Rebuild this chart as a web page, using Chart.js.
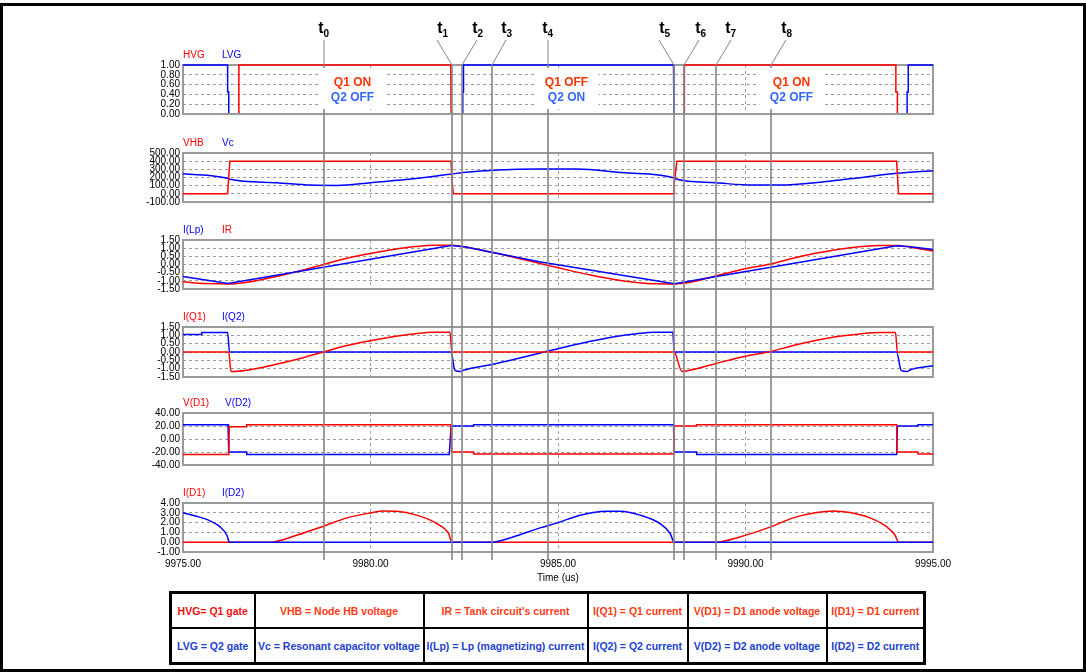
<!DOCTYPE html>
<html>
<head>
<meta charset="utf-8">
<script src="https://cdn.jsdelivr.net/npm/chart.js@4.4.1/dist/chart.umd.min.js"></script>
<style>
  html, body { margin: 0; padding: 0; background: #fff; }
  body { width: 1086px; height: 672px; position: relative; overflow: hidden; font-family: "Liberation Sans", Arial, sans-serif; }
  .frame { position: absolute; left: 0; top: 3px; width: 1080px; height: 663px; border: 3px solid #000; }
  canvas { position: absolute; left: 0; }
  #overlay { top: 0; z-index: 5; pointer-events: none; }
  table.legend { position: absolute; left: 169px; top: 591px; width: 757px; border-collapse: collapse; table-layout: fixed; border: 3px solid #000; background: #fff; }
  table.legend td { border: 2px solid #000; height: 33px; padding: 0; text-align: center; font-weight: bold; font-size: 10.5px; white-space: nowrap; overflow: hidden; }
  .r { color: #ff3b14; }
  .r0 { color: #ee1111; }
  .b { color: #1c3fcf; }
</style>
</head>
<body>
<div class="frame"></div>
<div id="stage"></div>
<canvas id="overlay" width="1086" height="672"></canvas>
<table class="legend" id="legend"></table>
<script>
// ---- time axis ----
const timeTicks = [9975, 9980, 9985, 9990, 9995];

// ---- marker lines t0..t8 ----
const markerNames = ['0', '1', '2', '3', '4', '5', '6', '7', '8'];
const markerTimes = [9978.77, 9982.17, 9982.43, 9983.23, 9984.74, 9988.1, 9988.36, 9989.2, 9990.67];
const labelShift = [-1, -10, 15, 14, -1, -10, 16, 14, 15];
const slantShift = [0, -15, 15, 14, 0, -15, 15, 15, 15];

// ---- switch states in the gate panel ----
const stateTimes = [9979.5, 9985.2, 9991.2];
const stateTop = ['Q1 ON', 'Q1 OFF', 'Q1 ON'];
const stateBottom = ['Q2 OFF', 'Q2 ON', 'Q2 OFF'];

// ---- panel 1: gate signals ----
const gateTicks = [0, 0.2, 0.4, 0.6, 0.8, 1.0];
const hvgT = [9975, 9976.48, 9976.49, 9982.14, 9982.15, 9988.36, 9988.37, 9994.01, 9994.01, 9994.05, 9994.05, 9995];
const hvgV = [0, 0, 1, 1, 0, 0, 1, 1, 0.45, 0.45, 0, 0];
const lvgT = [9975, 9976.19, 9976.19, 9976.22, 9976.22, 9982.46, 9982.46, 9982.48, 9982.48, 9988.08, 9988.09, 9994.31, 9994.31, 9994.34, 9994.34, 9995];
const lvgV = [1, 1, 0.45, 0.45, 0, 0, 0.45, 0.45, 1, 1, 0, 0, 0.45, 0.45, 1, 1];

// ---- panel 2: half-bridge node and resonant cap ----
const hbTicks = [-100, 0, 100, 200, 300, 400, 500];
const vhbT = [9975, 9976.19, 9976.25, 9982.15, 9982.17, 9982.21, 9988.09, 9988.1, 9988.17, 9994.03, 9994.08, 9995];
const vhbV = [0, 0, 400, 400, 150, 0, 0, 130, 400, 400, 0, 0];
const vcT = [9975, 9976.19, 9976.25, 9977.5, 9978.4, 9979.1, 9980.0, 9981.0, 9982.12, 9982.47, 9983.4, 9984.5, 9985.5, 9986.7, 9988.08, 9988.17, 9989.2, 9990.2, 9990.9, 9992.1, 9993.05, 9994.03, 9995];
const vcV = [247, 190, 178, 136, 107, 103, 136, 178, 240, 260, 293, 305, 305, 260, 198, 178, 136, 107, 107, 148, 198, 252, 284];

// ---- panel 3: magnetizing and tank current ----
const currentTicks = [-1.5, -1.0, -0.5, 0, 0.5, 1.0, 1.5];
const lpT = [9975, 9976.2, 9982.15, 9982.5, 9983.2, 9984.5, 9988.1, 9994.03, 9994.4, 9995];
const lpV = [-0.74, -1.16, 1.16, 1.08, 0.76, 0.17, -1.18, 1.15, 1.08, 0.92];
const irT = [9975, 9975.6, 9976.2, 9976.8, 9977.4, 9978.1, 9978.77, 9979.4, 9980.0, 9980.6, 9981.2, 9981.7, 9982.15, 9982.5, 9983.2, 9983.9, 9984.6, 9985.3, 9985.9, 9986.5, 9987.1, 9987.6, 9988.1, 9988.5, 9989.2, 9989.9, 9990.67, 9991.3, 9991.9, 9992.5, 9993.1, 9993.6, 9994.03, 9994.4, 9995];
const irV = [-1.06, -1.17, -1.2, -1.06, -0.78, -0.4, 0.02, 0.4, 0.68, 0.92, 1.1, 1.18, 1.18, 1.08, 0.76, 0.4, 0.02, -0.36, -0.66, -0.92, -1.1, -1.18, -1.19, -1.1, -0.7, -0.3, 0.03, 0.4, 0.7, 0.94, 1.1, 1.17, 1.17, 1.06, 0.82];

// ---- panel 4: switch currents ----
const iq1T = [9975, 9976.22, 9976.28, 9976.8, 9977.4, 9978.1, 9978.77, 9979.4, 9980.0, 9980.6, 9981.2, 9981.7, 9982.12, 9982.17, 9988.1, 9988.3, 9988.5, 9989.2, 9989.9, 9990.67, 9991.3, 9991.9, 9992.5, 9993.1, 9993.6, 9994.0, 9994.05, 9995];
const iq1V = [0, 0, -1.17, -1.06, -0.78, -0.4, 0.02, 0.4, 0.68, 0.92, 1.1, 1.18, 1.18, 0, 0, -1.16, -1.1, -0.7, -0.3, 0.03, 0.4, 0.7, 0.94, 1.1, 1.17, 1.17, 0, 0];
const iq2T = [9975, 9975.5, 9975.5, 9976.19, 9976.24, 9982.15, 9982.25, 9982.4, 9982.5, 9983.2, 9983.9, 9984.6, 9985.3, 9985.9, 9986.5, 9987.1, 9987.6, 9988.06, 9988.1, 9994.03, 9994.15, 9994.3, 9994.4, 9995];
const iq2V = [1.05, 1.05, 1.17, 1.17, 0, 0, -1.1, -1.17, -1.08, -0.76, -0.4, -0.02, 0.36, 0.66, 0.92, 1.1, 1.18, 1.18, 0, 0, -1.1, -1.17, -1.06, -0.82];

// ---- panel 5: diode voltages ----
const diodeVTicks = [-40, -20, 0, 20, 40];
const vd1T = [9975, 9976.22, 9976.23, 9976.7, 9976.7, 9982.15, 9982.16, 9982.75, 9982.75, 9988.09, 9988.1, 9988.7, 9988.7, 9994.03, 9994.04, 9994.6, 9994.6, 9995];
const vd1V = [-24, -24, 19, 19, 22, 22, -20, -20, -23, -23, 20, 20, 22, 22, -20, -20, -23, -23];
const vd2T = [9975, 9976.2, 9976.22, 9976.7, 9976.7, 9982.1, 9982.15, 9982.75, 9982.75, 9988.08, 9988.1, 9988.7, 9988.7, 9994.03, 9994.05, 9994.6, 9994.6, 9995];
const vd2V = [22, 22, -20, -20, -24, -24, 20, 20, 22, 22, -20, -20, -24, -24, 20, 20, 22, 22];

// ---- panel 6: diode currents ----
const diodeITicks = [-1, 0, 1, 2, 3, 4];
const id1T = [9975, 9977.32, 9978.03, 9978.77, 9979.37, 9980.0, 9980.34, 9980.7, 9981.23, 9981.77, 9982.08, 9982.17, 9989.2, 9989.85, 9990.67, 9991.27, 9991.9, 9992.34, 9992.79, 9993.32, 9993.77, 9993.99, 9994.08, 9995];
const id1V = [0, 0, 0.71, 1.66, 2.48, 2.99, 3.19, 3.16, 2.76, 1.9, 0.89, 0, 0, 0.54, 1.56, 2.48, 3.03, 3.19, 3.03, 2.48, 1.56, 0.71, 0, 0];
const id2T = [9975, 9975.36, 9975.72, 9975.99, 9976.17, 9976.24, 9983.23, 9983.8, 9984.52, 9984.98, 9985.59, 9986.3, 9986.65, 9987.19, 9987.72, 9987.99, 9988.1, 9995];
const id2V = [3.0, 2.65, 2.18, 1.56, 0.71, 0, 0, 0.54, 1.46, 1.97, 2.76, 3.16, 3.16, 2.76, 1.9, 0.89, 0, 0];

// ---- legend table ----
const legendTop = ['HVG= Q1 gate', 'VHB = Node HB voltage', "IR = Tank circuit's current", 'I(Q1) = Q1 current', 'V(D1) = D1 anode voltage', 'I(D1) = D1 current'];
const legendBottom = ['LVG = Q2 gate', 'Vc = Resonant capacitor voltage', 'I(Lp) = Lp (magnetizing) current', 'I(Q2) = Q2 current', 'V(D2) = D2 anode voltage', 'I(D2) = D2 current'];
const legendWidths = [84, 169, 164, 100, 139, 98];

const RED = '#ff0000';
const BLUE = '#0000ff';
const GRID = '#9a9a9a';
const PLOT_LEFT = 183, PLOT_RIGHT = 933, PAD = 20, AXIS_H = 32;
const FONT = '"Liberation Sans", Arial, sans-serif';

Chart.defaults.font.family = FONT;

const panels = [
    { top: 65, bottom: 114, min: 0, max: 1, ticks: gateTicks, bottomOver: true,
      series: [ { name: 'HVG', t: hvgT, v: hvgV, color: RED }, { name: 'LVG', t: lvgT, v: lvgV, color: BLUE } ] },
    { top: 153, bottom: 202, min: -100, max: 500, ticks: hbTicks,
      series: [ { name: 'VHB', t: vhbT, v: vhbV, color: RED }, { name: 'Vc', t: vcT, v: vcV, color: BLUE, smooth: true } ] },
    { top: 240, bottom: 289, min: -1.5, max: 1.5, ticks: currentTicks,
      series: [ { name: 'I(Lp)', t: lpT, v: lpV, color: BLUE }, { name: 'IR', t: irT, v: irV, color: RED, smooth: true } ] },
    { top: 327, bottom: 377, min: -1.5, max: 1.5, ticks: currentTicks,
      series: [ { name: 'I(Q1)', t: iq1T, v: iq1V, color: RED, smooth: true }, { name: 'I(Q2)', t: iq2T, v: iq2V, color: BLUE, smooth: true } ] },
    { top: 413, bottom: 465, min: -40, max: 40, ticks: diodeVTicks, nameGap: 42,
      series: [ { name: 'V(D1)', t: vd1T, v: vd1V, color: RED }, { name: 'V(D2)', t: vd2T, v: vd2V, color: BLUE } ] },
    { top: 503, bottom: 552, min: -1, max: 4, ticks: diodeITicks, showTime: true,
      series: [ { name: 'I(D1)', t: id1T, v: id1V, color: RED, smooth: true, order: 1 }, { name: 'I(D2)', t: id2T, v: id2V, color: BLUE, smooth: true, order: 0 } ] }
];

function toPoints(ts, vs) {
    return ts.map((t, i) => ({ x: t, y: vs[i] }));
}

// grey box round every plot area
const framePlugin = {
    id: 'panelFrame',
    beforeDatasetsDraw(chart) {
        const { ctx, chartArea: a } = chart;
        ctx.save();
        ctx.strokeStyle = GRID;
        ctx.lineWidth = 2;
        ctx.strokeRect(a.left, a.top, a.right - a.left, a.bottom - a.top);
        ctx.restore();
    },
    afterDatasetsDraw(chart, args, opts) {
        if (!opts.bottomOver) return;
        const { ctx, chartArea: a } = chart;
        ctx.save();
        ctx.strokeStyle = GRID;
        ctx.lineWidth = 2;
        ctx.beginPath();
        ctx.moveTo(a.left - 1, a.bottom);
        ctx.lineTo(a.right + 1, a.bottom);
        ctx.stroke();
        ctx.restore();
    }
};

// series names above each plot, in their own colour
const namesPlugin = {
    id: 'seriesNames',
    afterDraw(chart, args, opts) {
        const { ctx, chartArea: a } = chart;
        ctx.save();
        ctx.font = '10px ' + FONT;
        ctx.textBaseline = 'middle';
        ctx.textAlign = 'left';
        chart.data.datasets.forEach((ds, i) => {
            ctx.fillStyle = ds.borderColor;
            ctx.fillText(ds.label, a.left + (i === 0 ? 0 : opts.gap), a.top - 10);
        });
        ctx.restore();
    }
};

function makePanel(p) {
    const h = (p.bottom - p.top) + PAD * 2 + (p.showTime ? AXIS_H : 0);
    const canvas = document.createElement('canvas');
    canvas.width = 1086;
    canvas.height = h;
    canvas.style.top = (p.top - PAD) + 'px';
    canvas.style.width = '1086px';
    canvas.style.height = h + 'px';
    document.getElementById('stage').appendChild(canvas);

    return new Chart(canvas, {
        type: 'line',
        data: {
            datasets: p.series.map(s => ({
                label: s.name,
                data: toPoints(s.t, s.v),
                borderColor: s.color,
                borderWidth: 1.5,
                pointRadius: 0,
                fill: false,
                tension: 0,
                clip: 4,
                cubicInterpolationMode: s.smooth ? 'monotone' : 'default',
                order: s.order || 0
            }))
        },
        options: {
            responsive: false,
            animation: false,
            devicePixelRatio: 1,
            layout: { padding: { top: PAD, bottom: PAD, left: 0, right: 1086 - PLOT_RIGHT } },
            plugins: {
                legend: { display: false },
                tooltip: { enabled: false },
                panelFrame: { bottomOver: !!p.bottomOver },
                seriesNames: { gap: p.nameGap || 39 }
            },
            scales: {
                x: {
                    type: 'linear',
                    min: 9975,
                    max: 9995,
                    afterBuildTicks: s => { s.ticks = timeTicks.map(v => ({ value: v })); },
                    afterFit: s => { s.height = p.showTime ? AXIS_H : 0; },
                    grid: { color: GRID, lineWidth: 1, drawTicks: false },
                    border: { display: false, dash: [3, 3] },
                    ticks: {
                        display: !!p.showTime,
                        autoSkip: false,
                        maxRotation: 0,
                        padding: 6,
                        color: '#000',
                        font: { size: 10 },
                        callback: v => Number(v).toFixed(2)
                    },
                    title: {
                        display: !!p.showTime,
                        text: 'Time (us)',
                        color: '#000',
                        font: { size: 10 },
                        padding: 0
                    }
                },
                y: {
                    min: p.min,
                    max: p.max,
                    afterBuildTicks: s => { s.ticks = p.ticks.map(v => ({ value: v })); },
                    afterFit: s => { s.width = PLOT_LEFT; },
                    grid: { color: GRID, lineWidth: 1, drawTicks: false },
                    border: { display: false, dash: [3, 3] },
                    ticks: {
                        autoSkip: false,
                        padding: 3,
                        color: '#000',
                        font: { size: 10 },
                        callback: v => Number(v).toFixed(2)
                    }
                }
            }
        },
        plugins: [framePlugin, namesPlugin]
    });
}

const charts = panels.map(makePanel);

// marker lines, their labels and the ON/OFF notes go on a canvas above the plots
function drawOverlay() {
    const ctx = document.getElementById('overlay').getContext('2d');
    const xs = charts[charts.length - 1].scales.x;

    markerTimes.forEach((t, i) => {
        const x = Math.round(xs.getPixelForValue(t));
        ctx.strokeStyle = '#858585';
        ctx.lineWidth = 1.6;
        ctx.beginPath();
        ctx.moveTo(x, 65);
        ctx.lineTo(x, 560);
        ctx.stroke();
        ctx.lineWidth = 1;
        ctx.beginPath();
        ctx.moveTo(x + slantShift[i], 40);
        ctx.lineTo(x, 65);
        ctx.stroke();
    });

    markerTimes.forEach((t, i) => {
        const x = Math.round(xs.getPixelForValue(t));
        const cx = x + labelShift[i] + 0.5;
        ctx.fillStyle = '#000';
        ctx.textBaseline = 'alphabetic';
        ctx.font = 'bold 16px ' + FONT;
        ctx.textAlign = 'right';
        ctx.fillText('t', cx, 33);
        ctx.font = 'bold 10px ' + FONT;
        ctx.textAlign = 'left';
        ctx.fillText(markerNames[i], cx, 37);
    });

    // the gate chart lives in its own canvas, so shift its area to page coordinates
    const gate = charts[0];
    const off = gate.canvas.offsetTop;
    const top = off + gate.chartArea.top;
    const bottom = off + gate.chartArea.bottom;
    stateTimes.forEach((t, i) => {
        const cx = Math.round(gate.scales.x.getPixelForValue(t)) + 0.5;
        ctx.fillStyle = '#fff';
        ctx.fillRect(cx - 32, top + 3, 64, bottom - top - 8);
        ctx.font = 'bold 12px ' + FONT;
        ctx.textAlign = 'center';
        ctx.textBaseline = 'middle';
        ctx.fillStyle = '#ff3300';
        ctx.fillText(stateTop[i], cx, top + 18);
        ctx.fillStyle = '#3366ff';
        ctx.fillText(stateBottom[i], cx, top + 32.5);
    });
}
drawOverlay();

// legend table under the plots
function buildLegend() {
    const table = document.getElementById('legend');
    const colgroup = document.createElement('colgroup');
    legendWidths.forEach(w => {
        const col = document.createElement('col');
        col.style.width = w + 'px';
        colgroup.appendChild(col);
    });
    table.appendChild(colgroup);
    [legendTop, legendBottom].forEach((row, r) => {
        const tr = document.createElement('tr');
        row.forEach((text, c) => {
            const td = document.createElement('td');
            td.textContent = text;
            td.className = r === 1 ? 'b' : (c === 0 ? 'r0' : 'r');
            tr.appendChild(td);
        });
        table.appendChild(tr);
    });
}
buildLegend();
</script>
</body>
</html>
